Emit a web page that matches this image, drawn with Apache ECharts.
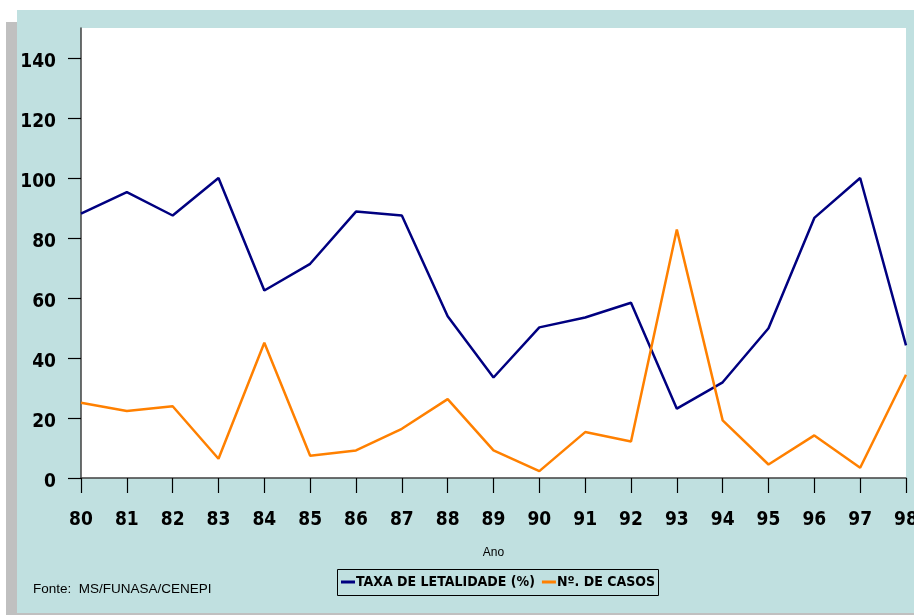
<!DOCTYPE html>
<html>
<head>
<meta charset="utf-8">
<script src="https://cdn.jsdelivr.net/npm/echarts@6/dist/echarts.min.js"></script>
<style>
  html, body { margin: 0; padding: 0; background: #fff; overflow: hidden; }
  #chart { width: 914px; height: 615px; }
</style>
</head>
<body>
<div id="chart"></div>
<script>
// data
var anos = ['80', '81', '82', '83', '84', '85', '86', '87', '88', '89',
            '90', '91', '92', '93', '94', '95', '96', '97', '98'];
var taxaLetalidade = [88.1, 95.3, 87.5, 100, 62.5, 71.4, 88.8, 87.5, 53.9, 33.5,
                      50.2, 53.5, 58.4, 23.1, 31.9, 49.9, 86.7, 100, 44.2];
var numCasos = [25.1, 22.3, 23.9, 6.4, 45.1, 7.4, 9.2, 16.4, 26.3, 9.2,
                2.3, 15.3, 12.2, 82.8, 19.2, 4.5, 14.2, 3.4, 34.4];
var nomeTaxa = 'TAXA DE LETALIDADE (%)';
var nomeCasos = 'Nº. DE CASOS';

// narrow bold face for the tick labels and the legend
var labelFont = '"DejaVu Sans Condensed", "DejaVu Sans", sans-serif';

var chartDom = document.getElementById('chart');
var myChart = echarts.init(chartDom);

var option = {
    animation: false,
    backgroundColor: '#ffffff',
    graphic: [
        // grey shadow + teal panel
        { type: 'rect', z: -10, shape: { x: 6, y: 22, width: 908, height: 593 }, style: { fill: '#c0c0c0' } },
        { type: 'rect', z: -9, shape: { x: 17, y: 10, width: 897, height: 603 }, style: { fill: '#c0e0e0' } },
        // legend box
        { type: 'rect', z: 1, shape: { x: 337.5, y: 569.5, width: 321, height: 26 },
          style: { fill: 'none', stroke: '#000', lineWidth: 1 } },
        { type: 'text', z: 2, left: 33, top: 582,
          style: { text: 'Fonte:  MS/FUNASA/CENEPI', fill: '#000', font: '13.5px "Liberation Sans", Arial, sans-serif' } }
    ],
    legend: {
        left: 341,
        top: 575,
        padding: 0,
        icon: 'rect',
        itemWidth: 14,
        itemHeight: 3,
        itemGap: 7,
        textStyle: {
            fontFamily: labelFont,
            fontWeight: 'bold',
            fontSize: 14,
            color: '#000',
            padding: [0, 0, 0, -4]
        },
        data: [nomeTaxa, nomeCasos]
    },
    grid: {
        show: true,
        backgroundColor: '#ffffff',
        borderWidth: 0,
        left: 81,
        right: 8,
        top: 28,
        bottom: 137,
        outerBoundsMode: 'none',
        containLabel: false
    },
    xAxis: {
        type: 'category',
        data: anos,
        boundaryGap: false,
        name: 'Ano',
        nameLocation: 'middle',
        nameGap: 69,
        nameTextStyle: { fontSize: 12, color: '#000', fontFamily: '"Liberation Sans", Arial, sans-serif' },
        axisLine: { lineStyle: { color: '#404040', width: 1.5 } },
        axisTick: { length: 15, lineStyle: { color: '#000', width: 1.2 } },
        axisLabel: {
            margin: 33,
            fontFamily: labelFont,
            fontWeight: 'bold',
            fontSize: 19,
            color: '#000',
            hideOverlap: false
        },
        splitLine: { show: false }
    },
    yAxis: {
        type: 'value',
        min: 0,
        max: 150,
        interval: 20,
        axisLine: { show: true, lineStyle: { color: '#404040', width: 1.5 } },
        axisTick: { show: true, length: 13, lineStyle: { color: '#000', width: 1.2 } },
        axisLabel: {
            margin: 25,
            showMaxLabel: false,
            fontFamily: labelFont,
            fontWeight: 'bold',
            fontSize: 19,
            color: '#000',
            verticalAlign: 'top',
            lineHeight: 9
        },
        splitLine: { show: false }
    },
    series: [
        {
            name: nomeTaxa,
            type: 'line',
            data: taxaLetalidade,
            symbol: 'none',
            lineStyle: { color: '#000080', width: 2.5 },
            itemStyle: { color: '#000080' }
        },
        {
            name: nomeCasos,
            type: 'line',
            data: numCasos,
            symbol: 'none',
            lineStyle: { color: '#ff8000', width: 2.5 },
            itemStyle: { color: '#ff8000' }
        }
    ]
};

option && myChart.setOption(option);
</script>
</body>
</html>
